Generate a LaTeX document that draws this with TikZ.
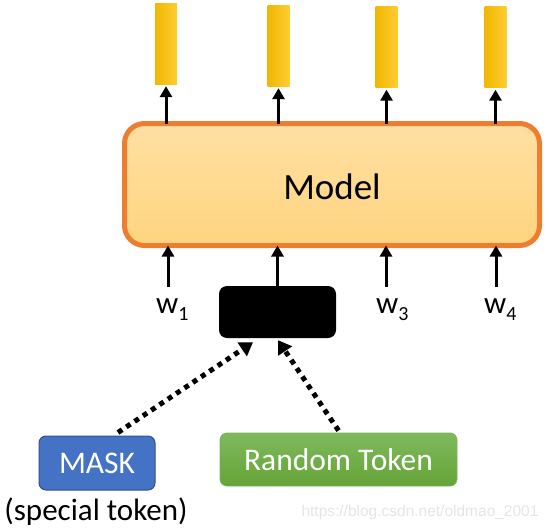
\documentclass[tikz,border=0pt]{standalone}
\usepackage{fontspec}
\setmainfont{Carlito}
\newfontfamily\wmfont{Liberation Sans}
\usetikzlibrary{arrows.meta}
\definecolor{orangeB}{HTML}{ED7D31}
\definecolor{modelTop}{HTML}{FFE0A3}
\definecolor{modelBot}{HTML}{FFD47F}
\definecolor{barL}{HTML}{F0B800}
\definecolor{barR}{HTML}{FFCC33}
\definecolor{maskFill}{HTML}{4472C4}
\definecolor{maskLine}{HTML}{2F528F}
\definecolor{rtTop}{HTML}{7EBA5D}
\definecolor{rtBot}{HTML}{66A337}
\tikzset{
  bar/.style={minimum width=22pt, minimum height=81pt, inner sep=0pt, left color=barL, right color=barR, draw=none},
  uparr/.style={line width=3pt, -{Triangle[width=12pt,length=11pt]}},
  dotarr/.style={line width=5pt, dash pattern=on 5pt off 5pt, -{Triangle[width=16pt,length=13pt]}},
  wlab/.style={font=\fontsize{31}{31}\selectfont, inner sep=0pt, anchor=base west},
}
\newcommand{\wsub}[1]{w\raisebox{-7pt}{\fontsize{20}{20}\selectfont #1}}
\begin{document}
\begin{tikzpicture}[x=1pt,y=-1pt]
\useasboundingbox (0,0) rectangle (549,530);
% output bars
\node[bar] (b1) at (166,43.5) {};
\node[bar] (b2) at (278.5,45.5) {};
\node[bar] (b3) at (386.5,47) {};
\node[bar] (b4) at (495.5,47) {};
% model
\node[draw=orangeB, line width=5pt, rounded corners=20pt, top color=modelTop, bottom color=modelBot,
      minimum width=415pt, minimum height=122pt, inner sep=0pt] (model) at (332,184.5) {};
\node[font=\fontsize{37}{37}\selectfont, inner sep=0pt] (mtext) at (332,187) {Model};
% arrows up to bars
\foreach \b in {b1,b2,b3,b4}{
  \draw[uparr] ([yshift=-2.5pt]model.north -| \b.south) -- ([yshift=-2pt]\b.south);
}
% black (masked) token
\node[fill=black, rounded corners=8pt, minimum width=117pt, minimum height=52pt, inner sep=0pt] (bbox) at (277.5,312) {};
% inputs
\coordinate (in1) at (168,287);
\coordinate (in3) at (386,287);
\coordinate (in4) at (496,287);
\foreach \c in {in1,in3,in4}{
  \draw[uparr] (\c) -- ([yshift=2.5pt]model.south -| \c);
}
\draw[uparr] (bbox.north) -- ([yshift=2.5pt]model.south -| bbox.north);
\node[wlab] (w1) at (156,313) {\wsub{1}};
\node[wlab] (w3) at (376,313) {\wsub{3}};
\node[wlab] (w4) at (484,313) {\wsub{4}};
% MASK & Random Token
\node[fill=maskFill, draw=maskLine, line width=1pt, rounded corners=7pt, minimum width=116pt, minimum height=54pt,
      inner sep=0pt, text=white, font=\fontsize{31.5}{31.5}\selectfont] (mask) at (97,463) {MASK};
\node[top color=rtTop, bottom color=rtBot, draw=rtTop!80!rtBot, line width=0.8pt, rounded corners=7pt, minimum width=237pt, minimum height=53pt,
      inner sep=0pt, text=white, font=\fontsize{31.5}{31.5}\selectfont] (rt) at (338.5,459.5) {Random Token};
\node[font=\fontsize{31}{31}\selectfont, inner sep=0pt] (spec) at (96,512) {(special token)};
% dotted arrows
\draw[dotarr] ([xshift=21pt,yshift=3pt]mask.north) -- ([xshift=-24.5pt,yshift=-4pt]bbox.south);
\draw[dotarr] ([yshift=2pt]rt.north) -- ([xshift=0.5pt,yshift=-2pt]bbox.south);
% watermark
\node[font=\wmfont\fontsize{15.5}{15.5}\selectfont, text=black!10, inner sep=0pt] (wm) at (420,512) {https://blog.csdn.net/oldmao\_2001};
\end{tikzpicture}
\end{document}
